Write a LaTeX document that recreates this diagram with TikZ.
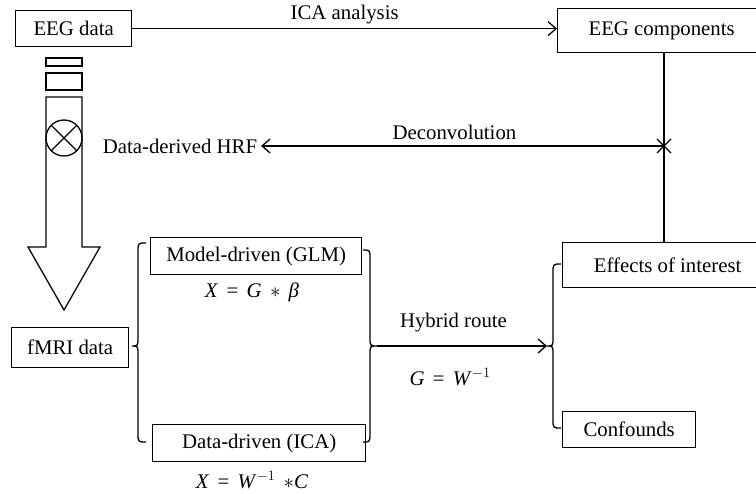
\documentclass[tikz,border=0pt]{standalone}
\usepackage{fontspec}
\setmainfont{Liberation Serif}
\usetikzlibrary{arrows.meta}
\newcommand{\gp}{\hspace{0.4em}}
\begin{document}
\begin{tikzpicture}[x=1pt,y=-1pt, line width=1.3pt,
  font=\fontsize{20.8}{24}\selectfont,
  box/.style={draw, rectangle, inner sep=0pt, anchor=north west},
  tip/.style={-{Straight Barb[length=8pt,width=14pt,line width=1.3pt]}}]
\useasboundingbox (0,0) rectangle (756,494);
% boxes
\node[box, minimum width=116pt, minimum height=36pt] (eeg) at (15,10) {EEG data};
\node[box, minimum width=208pt, minimum height=44pt] (comp) at (557,8) {EEG components};
\node[box, minimum width=117pt, minimum height=40pt] (fmri) at (11,327) {fMRI data};
\node[box, minimum width=211pt, minimum height=37pt] (glm) at (150,237) {Model-driven (GLM)};
\node[box, minimum width=213pt, minimum height=37pt] (ica) at (152,424) {Data-driven (ICA)};
\node[box, minimum width=210pt, minimum height=45pt] (eff) at (562,242) {Effects of interest};
\node[box, minimum width=133pt, minimum height=36pt] (conf) at (562,411) {Confounds};
% labels
\node (hrf) at (180,146) {Data-derived HRF};
\node (eq1) at (252,292) {\textit{X}\gp=\gp\textit{G}\gp$\ast$\gp\textit{β}};
\node (eq2) at (252,480) {\textit{X}\gp=\gp\textit{W}$^{-1}$\gp$\ast$\textit{C}};
% coordinates
\coordinate (junc) at (664,146);
\coordinate (mtip) at (377,346);
\coordinate (rtip) at (547,346);
% connectors
\draw[tip] (eeg.east) -- (eeg.east -| comp.west) node[midway, yshift=14pt] {ICA analysis};
\draw[tip] (junc) -- (hrf.east) node[pos=0.52, yshift=14pt] {Deconvolution};
\draw (junc) ++(-7,-7) -- ++(14,14) (junc) ++(-7,7) -- ++(14,-14);
\draw (comp.south -| junc) -- (eff.north -| junc);
\draw[tip] (mtip) -- (rtip)
  node[pos=0.45, yshift=23pt] {Hybrid route}
  node[pos=0.43, yshift=-31pt] {\textit{G}\gp=\gp\textit{W}$^{-1}$};
% braces
\draw (146,243) .. controls (138,243) .. (138,252) -- (138,337)
  .. controls (138,346) .. (132,346) .. controls (138,346) .. (138,355)
  -- (138,433) .. controls (138,442) .. (146,442);
\draw (363,250) .. controls (370,250) .. (370,259) -- (370,337)
  .. controls (370,346) .. (mtip) .. controls (370,346) .. (370,355)
  -- (370,433) .. controls (370,442) .. (363,442);
\draw (561,264) .. controls (553,264) .. (553,273) -- (553,337)
  .. controls (553,346) .. (rtip) .. controls (553,346) .. (553,355)
  -- (553,419) .. controls (553,428) .. (561,428);
% big arrow
\draw (46,58) rectangle (82,66);
\draw (46,73) rectangle (82,90);
\draw (46,97) -- (46,247) -- (28,247) -- (64,310) -- (100,247) -- (82,247) -- (82,97) -- cycle;
\draw (64,138) circle[radius=18pt];
\draw (64,138) ++(-12.7,-12.7) -- ++(25.4,25.4) (64,138) ++(-12.7,12.7) -- ++(25.4,-25.4);
\end{tikzpicture}
\end{document}
